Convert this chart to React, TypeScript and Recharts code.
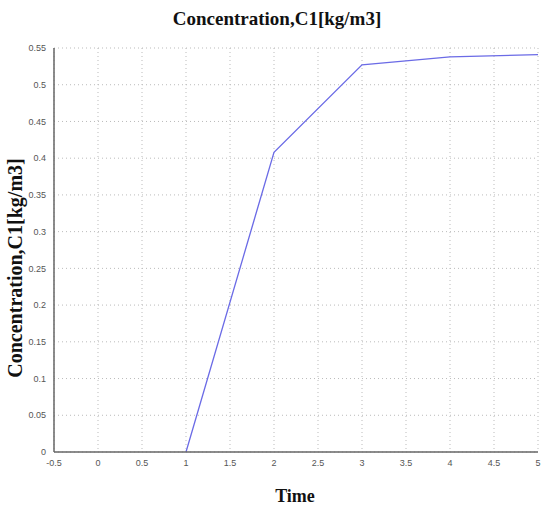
import React from 'react';
import { LineChart, Line, XAxis, YAxis, CartesianGrid } from 'recharts';

// values
const time = [1, 2, 3, 4, 5];
const concentration = [0, 0.408, 0.527, 0.538, 0.541];
const xTicks = [-0.5, 0, 0.5, 1, 1.5, 2, 2.5, 3, 3.5, 4, 4.5, 5];
const yTicks = [0, 0.05, 0.1, 0.15, 0.2, 0.25, 0.3, 0.35, 0.4, 0.45, 0.5, 0.55];

const data = time.map((t, i) => ({ t, c: concentration[i] }));

const serif = '"Liberation Serif", "Times New Roman", serif';
const tickStyle = { fontSize: 9, fill: '#555', fontFamily: '"Liberation Sans", Arial, sans-serif' };
const axisColor = '#666';

export default function App() {
  return (
    <div style={{ position: 'absolute', left: 0, top: 0, width: 542, height: 509, background: '#fff' }}>
      <div
        style={{
          position: 'absolute', top: 8, left: 6, width: 542, textAlign: 'center',
          fontFamily: serif, fontWeight: 'bold', fontSize: 19, color: '#111',
        }}
      >
        Concentration,C1[kg/m3]
      </div>
      <div style={{ position: 'absolute', left: 15, top: 268, width: 0, height: 0 }}>
        <div
          style={{
            position: 'absolute', transform: 'translate(-50%, -50%) rotate(-90deg)',
            whiteSpace: 'nowrap', fontFamily: serif, fontWeight: 'bold', fontSize: 20, color: '#111',
          }}
        >
          Concentration,C1[kg/m3]
        </div>
      </div>
      <div
        style={{
          position: 'absolute', top: 486, left: 24, width: 542, textAlign: 'center',
          fontFamily: serif, fontWeight: 'bold', fontSize: 18, color: '#111',
        }}
      >
        Time
      </div>
      <LineChart
        width={542}
        height={509}
        data={data}
        margin={{ top: 48, right: 4, bottom: 27, left: 0 }}
        style={{ position: 'absolute', left: 0, top: 0 }}
      >
        <CartesianGrid stroke="#bbb" strokeDasharray="1 3" />
        <XAxis
          dataKey="t"
          type="number"
          domain={[-0.5, 5]}
          ticks={xTicks}
          height={30}
          tick={tickStyle}
          tickLine={false}
          axisLine={{ stroke: axisColor, strokeWidth: 1.5 }}
        />
        <XAxis
          xAxisId="top"
          orientation="top"
          dataKey="t"
          type="number"
          domain={[-0.5, 5]}
          ticks={xTicks}
          height={0}
          tick={false}
          tickLine={false}
          axisLine={{ stroke: axisColor, strokeWidth: 1.5 }}
        />
        <YAxis
          type="number"
          domain={[0, 0.55]}
          ticks={yTicks}
          width={54}
          tick={tickStyle}
          tickLine={false}
          axisLine={{ stroke: axisColor, strokeWidth: 1.5 }}
        />
        <YAxis
          yAxisId="right"
          orientation="right"
          type="number"
          domain={[0, 0.55]}
          ticks={yTicks}
          width={0}
          tick={false}
          tickLine={false}
          axisLine={{ stroke: axisColor, strokeWidth: 1.5 }}
        />
        <Line
          type="linear"
          dataKey="c"
          stroke="#6b6be6"
          strokeWidth={1.3}
          dot={false}
          isAnimationActive={false}
        />
      </LineChart>
    </div>
  );
}
